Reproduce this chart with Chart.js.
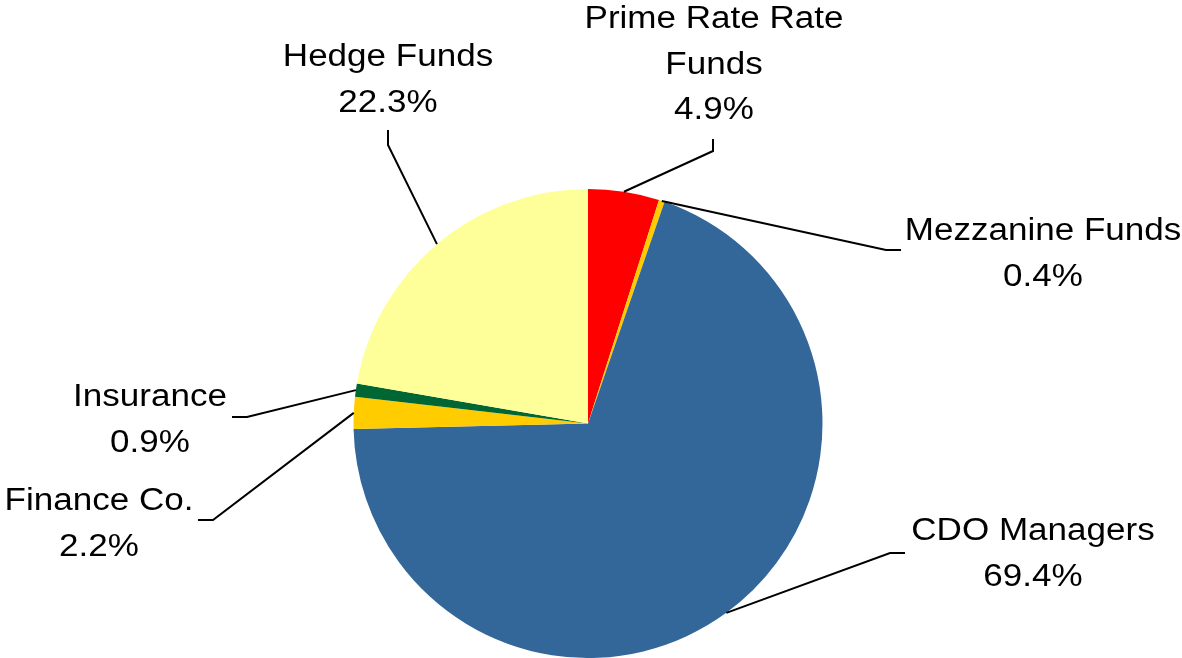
<!DOCTYPE html>
<html>
<head>
<meta charset="utf-8">
<script src="https://cdn.jsdelivr.net/npm/chart.js@4"></script>
<style>
html,body{margin:0;padding:0;background:#fff;}
#wrap{width:1182px;height:658px;position:relative;}
</style>
</head>
<body>
<div id="wrap"><canvas id="c"></canvas></div>
<script>
const categories = ['Prime Rate Rate Funds', 'Mezzanine Funds', 'CDO Managers', 'Finance Co.', 'Insurance', 'Hedge Funds'];
const shares = [4.9, 0.4, 69.4, 2.2, 0.9, 22.3];
const labelLines = [['Prime Rate Rate', 'Funds'], ['Mezzanine Funds'], ['CDO Managers'], ['Finance Co.'], ['Insurance'], ['Hedge Funds']];
const sliceColors = ['#FF0000', '#FFCC00', '#336699', '#FFCC00', '#006633', '#FFFF99'];

// label layout (style only): elbow point, line end, text centre x, first baseline y
const labelLayout = [
  {elbow: [713, 151], end: [713, 139], tx: 714, ty: 28},
  {elbow: [886, 250], end: [901, 250], tx: 1043, ty: 240},
  {elbow: [890, 553], end: [905, 553], tx: 1033, ty: 540},
  {elbow: [213, 520], end: [198, 520], tx: 99, ty: 510},
  {elbow: [247, 417], end: [232, 417], tx: 150, ty: 406},
  {elbow: [388, 145], end: [388, 130], tx: 388, ty: 66}
];
const FONT_PX = 31, STRETCH = 1.13, LINE_H = 45.5;

const leaderPlugin = {
  id: 'leaders',
  afterDraw(chart) {
    const ctx = chart.ctx;
    const meta = chart.getDatasetMeta(0);
    meta.data.forEach((arc, i) => {
      const p = arc.getProps(['x', 'y', 'startAngle', 'endAngle', 'outerRadius'], true);
      const mid = (p.startAngle + p.endAngle) / 2;
      const sx = p.x + Math.cos(mid) * p.outerRadius;
      const sy = p.y + Math.sin(mid) * p.outerRadius;
      const L = labelLayout[i];
      ctx.save();
      ctx.strokeStyle = '#000';
      ctx.lineWidth = 2;
      ctx.beginPath();
      ctx.moveTo(sx, sy);
      ctx.lineTo(L.elbow[0], L.elbow[1]);
      ctx.lineTo(L.end[0], L.end[1]);
      ctx.stroke();
      const lines = labelLines[i].concat([shares[i].toFixed(1) + '%']);
      ctx.fillStyle = '#000';
      ctx.font = FONT_PX + 'px "Liberation Sans", Arial, sans-serif';
      ctx.textAlign = 'center';
      ctx.textBaseline = 'alphabetic';
      lines.forEach((t, k) => {
        ctx.save();
        ctx.translate(L.tx, L.ty + k * LINE_H);
        ctx.scale(STRETCH, 1);
        ctx.fillText(t, 0, 0);
        ctx.restore();
      });
      ctx.restore();
    });
  }
};

new Chart(document.getElementById('c'), {
  type: 'pie',
  data: {
    labels: categories,
    datasets: [{
      data: shares,
      backgroundColor: sliceColors,
      borderWidth: 0
    }]
  },
  options: {
    responsive: true,
    maintainAspectRatio: false,
    animation: false,
    layout: {padding: {top: 189, bottom: 0, left: 0, right: 6}},
    plugins: {legend: {display: false}, tooltip: {enabled: false}}
  },
  plugins: [leaderPlugin]
});
</script>
</body>
</html>
